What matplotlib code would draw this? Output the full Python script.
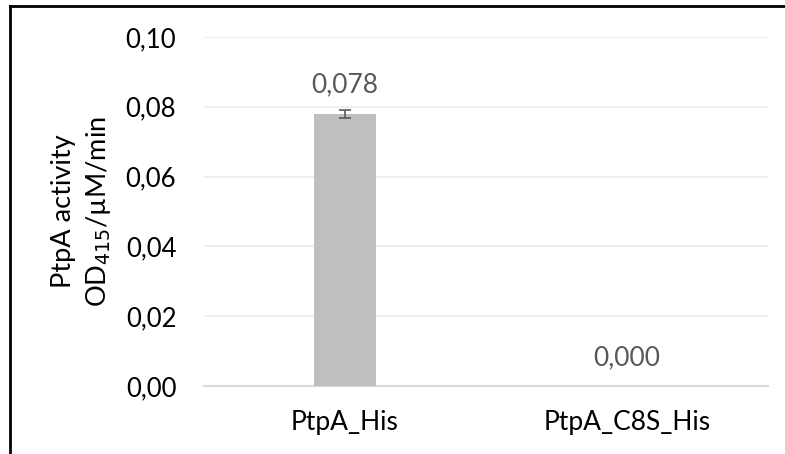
import matplotlib.pyplot as plt
from matplotlib.lines import Line2D
from matplotlib.ticker import FuncFormatter

# data
categories = ["PtpA_His", "PtpA_C8S_His"]
activity = [0.078, 0.000]
errors = [0.0012, 0.0]
yticks = [0.00, 0.02, 0.04, 0.06, 0.08, 0.10]

plt.rcParams['font.family'] = ['Lato', 'DejaVu Sans']

fig = plt.figure(figsize=(7.85, 4.54), dpi=100)
ax = fig.add_axes([0.26, 0.15, 0.718, 0.7685])

x = range(len(categories))
ax.bar(x, activity, width=0.22, color="#BFBFBF", zorder=3)
ax.errorbar([0], activity[:1], yerr=errors[:1], fmt="none", ecolor="#595959",
            elinewidth=1.2, capsize=4, capthick=1.2, zorder=4)

for i, v in enumerate(activity):
    off = errors[i] + 0.0035 if v > 0 else 0.0045
    ax.text(i, v + off, f"{v:.3f}".replace(".", ","), ha="center", va="bottom",
            fontsize=19, color="#595959")

ax.set_xlim(-0.5, 1.5)
ax.set_ylim(0, 0.1)
ax.set_yticks(yticks)
ax.yaxis.set_major_formatter(FuncFormatter(lambda v, p: f"{v:.2f}".replace(".", ",")))
ax.set_xticks(list(x))
ax.set_xticklabels(categories, fontsize=19)
ax.tick_params(axis="both", length=0, colors="#000000")
ax.tick_params(axis="y", labelsize=18.5, pad=20)
ax.tick_params(axis="x", pad=17)
ax.grid(axis="y", color="#EBEBEB", linewidth=1.2, zorder=0)
for s in ["top", "right", "left"]:
    ax.spines[s].set_visible(False)
ax.spines["bottom"].set_color("#D9D9D9")
ax.spines["bottom"].set_linewidth(1.5)

ax.set_ylabel("PtpA activity\nOD$_{415}$/µM/min", fontsize=19.5, linespacing=1.35)
ax.yaxis.set_label_coords(-0.162, 0.5)

# frame lines at top and left
fig.add_artist(Line2D([10 / 785, 1], [1 - 6 / 454, 1 - 6 / 454], color="black", lw=2))
fig.add_artist(Line2D([10 / 785, 10 / 785], [0, 1 - 6 / 454], color="black", lw=2))

fig.savefig("out.png", dpi=100)
